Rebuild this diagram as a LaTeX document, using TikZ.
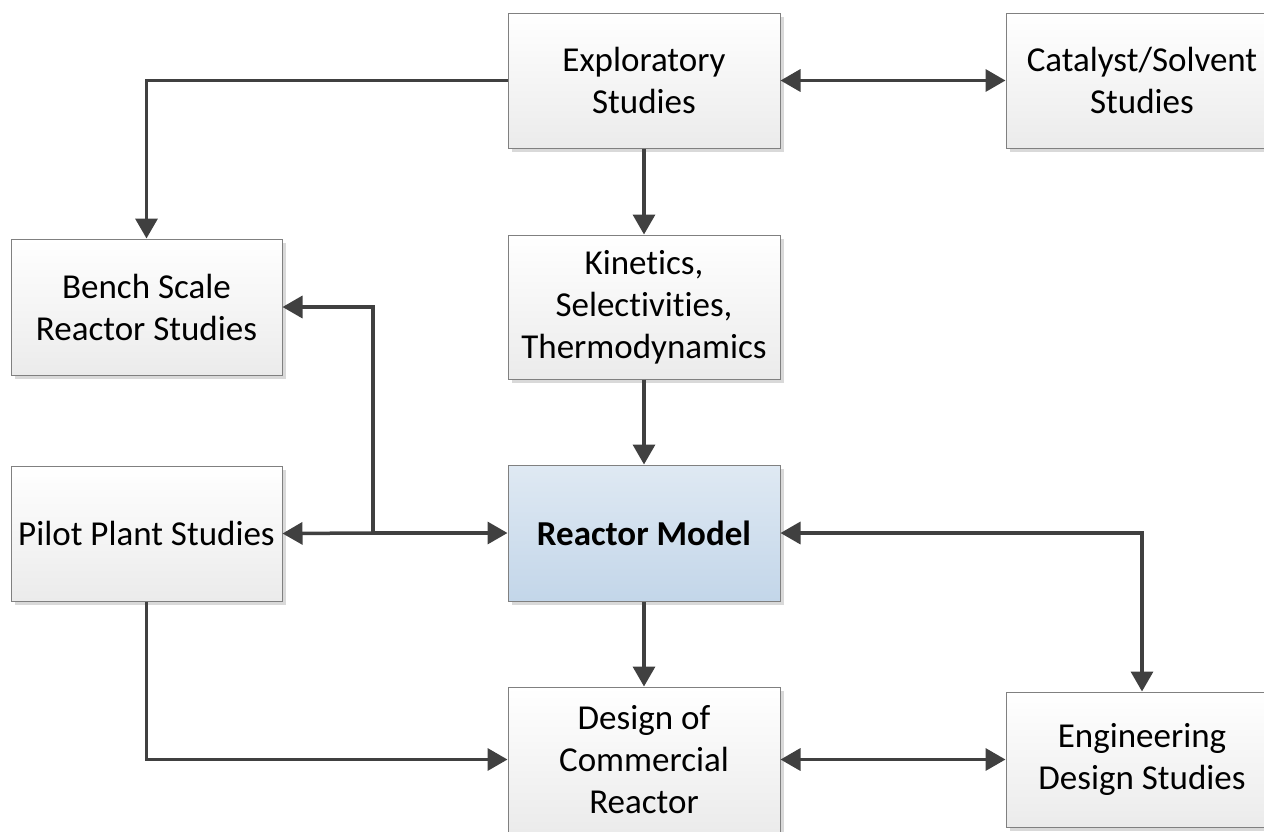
\documentclass[tikz,border=0pt]{standalone}
\usepackage{fontspec}
\setmainfont{Carlito}[Ligatures=NoCommon]
\usetikzlibrary{arrows.meta,shadows}
\definecolor{linec}{HTML}{404040}
\definecolor{boxborder}{HTML}{808080}
\definecolor{boxbot}{HTML}{EBEBEB}
\definecolor{bluetop}{HTML}{DFE9F3}
\definecolor{bluebot}{HTML}{C3D6E9}
\tikzset{
  box/.style={draw=boxborder, line width=1pt, top color=white, bottom color=boxbot,
    minimum width=272pt, minimum height=135pt, inner sep=2pt, align=center,
    font=\fontsize{35}{42}\selectfont,
    drop shadow={shadow xshift=4pt, shadow yshift=-4pt, fill=black!15, opacity=1}},
  bluebox/.style={box, top color=bluetop, bottom color=bluebot, font=\fontsize{35}{42}\selectfont\bfseries},
  conn/.style={draw=linec, line width=3.5pt, -{Triangle[length=20pt,width=22pt]}},
  conn2/.style={draw=linec, line width=3.5pt, {Triangle[length=20pt,width=22pt]}-{Triangle[length=20pt,width=22pt]}},
}
\begin{document}
\begin{tikzpicture}[x=1pt,y=-1pt]
\useasboundingbox (0,0) rectangle (1264,831);
\clip (0,0) rectangle (1264,831);
\node[box] (expl) at (644,80.5) {Exploratory\\Studies};
\node[box] (cat) at (1142,80.5) {Catalyst/Solvent\\Studies};
\node[box, minimum width=271pt, minimum height=136pt] (bench) at (146.5,307) {Bench Scale\\Reactor Studies};
\node[box, minimum height=144pt] (kin) at (644,307) {Kinetics,\\Selectivities,\\Thermodynamics};
\node[box, minimum width=271pt] (pilot) at (146.5,533.5) {Pilot Plant Studies};
\node[bluebox, minimum height=136pt] (react) at (644,533) {Reactor Model};
\node[box, minimum height=145pt] (design) at (644,759.5) {Design of\\Commercial\\Reactor};
\node[box] (eng) at (1142,759.5) {Engineering\\Design Studies};
\coordinate (j) at (373,533);
\draw[conn] (expl.west) -| (bench.north);
\draw[conn2] (expl.east) -- (cat.west);
\draw[conn] (expl.south) -- (kin.north);
\draw[conn] (kin.south) -- (react.north);
\draw[conn] (react.south) -- (design.north);
\draw[conn] (j) -- (pilot.east);
\draw[conn] (j) -- (react.west);
\draw[conn] (j) |- (bench.east);
\draw[conn2] (react.east) -| (eng.north);
\draw[conn] (pilot.south) |- (design.west);
\draw[conn2] (design.east) -- (eng.west);
\end{tikzpicture}
\end{document}
